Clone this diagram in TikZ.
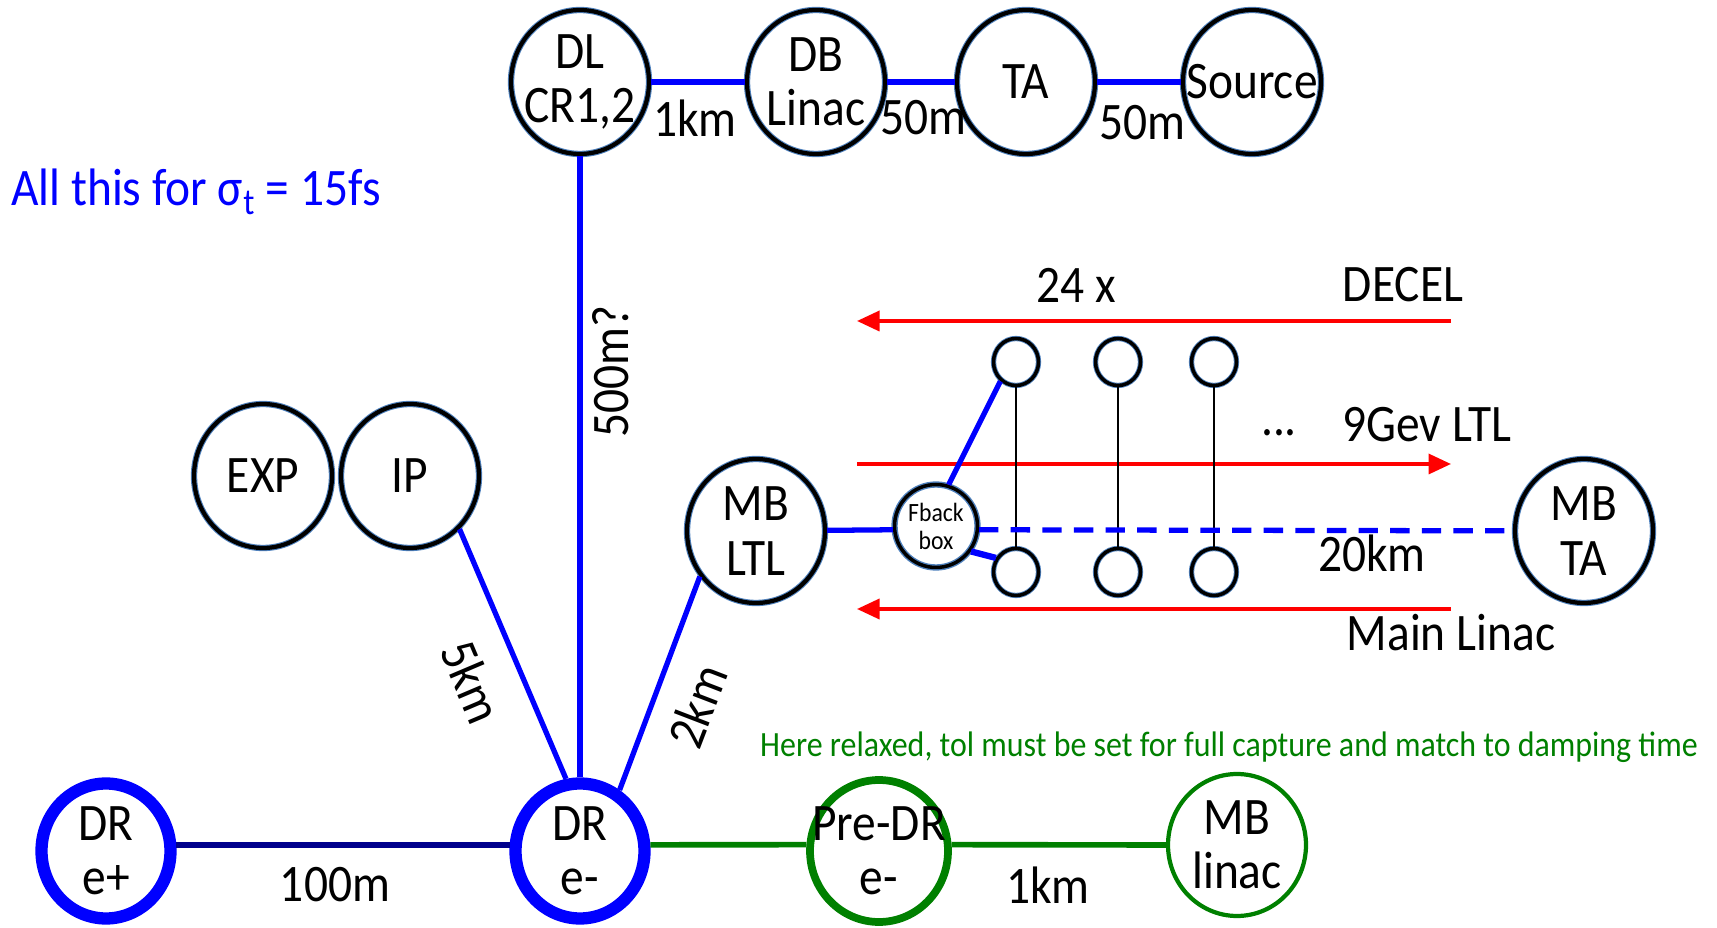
\documentclass[tikz,border=0pt]{standalone}
\usepackage{fontspec}
\setmainfont[FakeStretch=0.9]{Carlito}
\usetikzlibrary{shapes.geometric,arrows.meta}
\definecolor{darkgreen}{RGB}{0,128,0}
\definecolor{halo}{RGB}{79,129,189}
\definecolor{navyline}{RGB}{0,0,140}

\begin{document}
\begin{tikzpicture}[x=0.02cm,y=-0.02cm,
  every node/.style={font=\fontsize{30}{31}\selectfont},
  ring/.style={ellipse,draw=black,line width=2.4pt,minimum width=2.76cm,minimum height=2.88cm,inner sep=-1cm,align=center,preaction={draw=halo,line width=3.6pt}},
  dring/.style={ellipse,draw=blue,line width=7pt,minimum width=2.58cm,minimum height=2.7cm,inner sep=-1cm,align=center},
  gring/.style={ellipse,draw=darkgreen,line width=2.4pt,minimum width=2.76cm,minimum height=2.84cm,inner sep=-1cm,align=center},
  pod/.style={ellipse,draw=black,line width=2pt,minimum width=0.9cm,minimum height=0.94cm,inner sep=0pt,preaction={draw=halo,line width=3pt}},
  link/.style={draw=blue,line width=3pt},
  beam/.style={draw=red,line width=2pt,-{Triangle[length=0.45cm,width=0.4cm]}},
  rung/.style={draw=black,line width=1.3pt}]
  \useasboundingbox (0,0) rectangle (1717,928);

  % drive beam side
  \node[ring] (dl) at (580,82) {DL\\CR1,2};
  \node[ring] (db) at (816,82) {DB\\Linac};
  \node[ring] (ta) at (1026,82) {TA};
  \node[ring] (src) at (1252,82) {Source};
  \draw[link] (dl) -- (db);
  \draw[link] (db) -- (ta);
  \draw[link] (ta) -- (src);
  \node (l1) at (695,118) {1km};
  \node (l2) at (923,118) {50m};
  \node (l3) at (1142,123) {50m};

  \node[blue,anchor=base west,inner sep=0pt] (sigma) at (11,206) {All this for σ\textsubscript{t} = 15fs};

  \node[ring] (exp) at (263,476) {EXP};
  \node[ring] (ip) at (410,476) {IP};
  \node[ring] (mbltl) at (756,531) {MB\\LTL};
  \node[ring] (mbta) at (1584,531) {MB\\TA};

  % damping rings
  \node[dring] (drp) at (106,851) {DR\\e+};
  \node[dring] (drm) at (580,851) {DR\\e-};
  \node[gring,line width=4.4pt] (pre) at (879,851) {Pre-DR\\e-};
  \node[gring] (mbl) at (1237,845) {MB\\linac};

  \draw[link] (dl) -- (drm);
  \draw[link] (ip.-47) -- (drm.101);
  \draw[link] (mbltl.219) -- (drm.57);
  \draw[navyline,line width=3.2pt] (drp.5) -- (drm.175);
  \draw[darkgreen,line width=3.2pt] (drm.5) -- (pre.175);
  \draw[darkgreen,line width=3.2pt] (pre.5) -- (mbl.180);
  \node[rotate=90] (l500) at (611,372) {500m?};
  \node[rotate=-67] (l5) at (472,682) {5km};
  \node[rotate=69] (l2k) at (697,706) {2km};
  \node (l100) at (335,885) {100m};
  \node (l1k) at (1048,885) {1km};
  \node[darkgreen,font=\fontsize{20.2}{21}\selectfont] (note) at (1229,747) {Here relaxed, tol must be set for full capture and match to damping time};

  % main linac
  \coordinate (decR) at (1451,321);
  \coordinate (decL) at (857,321);
  \coordinate (ltlL) at (857,464);
  \coordinate (ltlR) at (1451,464);
  \coordinate (mlR) at (1451,609);
  \coordinate (mlL) at (857,609);
  \draw[beam] (decR) -- (decL);
  \draw[beam] (ltlL) -- (ltlR);
  \draw[beam] (mlR) -- (mlL);

  \foreach \i/\x in {1/1016,2/1118,3/1214}{
    \node[pod] (t\i) at (\x,362) {};
    \node[pod] (b\i) at (\x,572) {};
    \draw[rung] (t\i) -- (b\i);
  }

  \node[ring,line width=2pt,minimum width=1.66cm,minimum height=1.66cm,font=\fontsize{15}{16}\selectfont] (fb) at (936,526) {Fback\\box};
  \draw[link] (mbltl) -- (fb.185);
  \draw[link,dashed,dash pattern=on 11pt off 7pt] (fb.-5) -- (mbta);
  \draw[link] (fb.73) -- (t1.231);
  \draw[link,line width=3.6pt] (fb.-36) -- (b1.145);

  \node (n24) at (1076,285) {24 x};
  \node (decel) at (1403,285) {DECEL};
  \node (dots) at (1279,433) {...};
  \node (ltl9) at (1427,425) {9Gev LTL};
  \node (d20) at (1372,553) {20km};
  \node (mltxt) at (1451,633) {Main Linac};
\end{tikzpicture}
\end{document}
